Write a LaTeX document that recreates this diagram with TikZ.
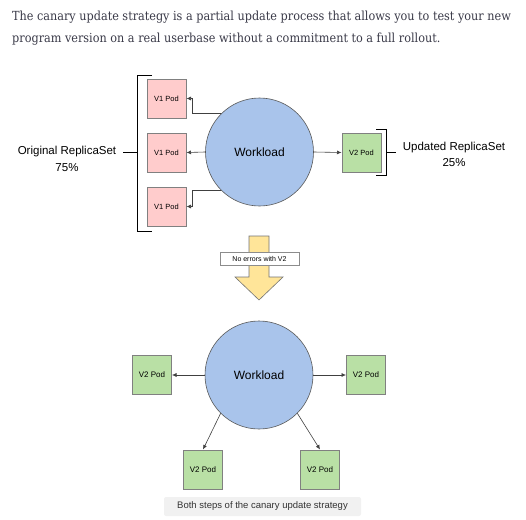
\documentclass[tikz,border=0pt]{standalone}
\usepackage{fontspec}
\setmainfont{Liberation Sans}
\newfontfamily\introfont{DejaVu Serif Condensed}
\usepackage{tikz}
\usetikzlibrary{
  positioning,
  arrows.meta
}
\definecolor{podred}{HTML}{FFCCCC}
\definecolor{podgreen}{HTML}{B9E0A5}
\definecolor{wlblue}{HTML}{A9C4EB}
\definecolor{arrowyellow}{HTML}{FFE599}
\definecolor{introgray}{HTML}{3A3A48}
\definecolor{capgray}{HTML}{F1F1F1}
\tikzset{
  pod/.style={draw=black!50, line width=1pt, minimum size=39pt, inner sep=0pt, font=\fontsize{7.5}{8}\selectfont},
  vonepod/.style={pod, fill=podred},
  vtwopod/.style={pod, fill=podgreen},
  workload/.style={circle, draw=black!65, line width=0.6pt, fill=wlblue, minimum size=108pt, inner sep=0pt, font=\fontsize{12}{14}\selectfont},
  setlabel/.style={font=\fontsize{11.5}{13}\selectfont, inner sep=0pt},
  link/.style={->, draw=black!75, line width=0.6pt}
}

\begin{document}
\begin{tikzpicture}[x=1pt,y=-1pt,>={Latex[length=4.5pt,width=4pt]}]
  \useasboundingbox (0,0) rectangle (526,519);
  % intro text
  \node[anchor=base west, inner sep=0pt, text=introgray, font=\introfont\fontsize{12.5}{21}\selectfont] (intro1) at (12,21) {The canary update strategy is a partial update process that allows you to test your new};
  \node[anchor=base west, inner sep=0pt, text=introgray, font=\introfont\fontsize{12.5}{21}\selectfont] (intro2) at (12,42) {program version on a real userbase without a commitment to a full rollout.};

  % first step
  \node[workload] (wl1) at (259.5,152) {Workload};
  \node[vonepod] (pa) at (166.5,98.5) {V1 Pod};
  \node[vonepod] (pb) at (166.5,152.5) {V1 Pod};
  \node[vonepod] (pc) at (166.5,206.5) {V1 Pod};
  \node[vtwopod] (pd) at (361.5,152.5) {V2 Pod};
  \draw[link] (wl1.135) -- ++(-28.5,0) |- (pa.east);
  \draw[link] (wl1.west) -- (pb.east);
  \draw[link] (wl1.225) -- ++(-28.5,0) |- (pc.east);
  \draw[link] (wl1.east) -- (pd.west);

  % brackets
  \draw[line width=1pt] (152,75) -- (137,75) -- (137,231) -- (152,231);
  \draw[line width=1pt] (376,129) -- (386,129) -- (386,175) -- (376,175);
  \coordinate (lbrk) at (137,152);
  \coordinate (ltick) at (123,152);
  \coordinate (rbrk) at (386,152);
  \coordinate (rtick) at (396,152);
  \node[setlabel] (orig) at (67,152) {Original ReplicaSet};
  \node[setlabel] (origpct) at (67,168) {75\%};
  \node[setlabel] (upd) at (454,148) {Updated ReplicaSet};
  \node[setlabel] (updpct) at (454,163) {25\%};
  \draw[line width=1pt] (ltick) -- (lbrk);
  \draw[line width=1pt] (rbrk) -- (rtick);

  % big arrow
  \draw[draw=black!55, line width=0.6pt, fill=arrowyellow] (249,236) -- (269,236) -- (269,277) -- (283,277) -- (259,300) -- (235,277) -- (249,277) -- cycle;
  \node[draw=black!45, fill=white, minimum width=79pt, minimum height=13pt, inner sep=0pt, font=\fontsize{7}{8}\selectfont] (cond) at (259.5,258.5) {No errors with V2};

  % second step
  \node[workload] (wl2) at (259,375) {Workload};
  \node[vtwopod, font=\fontsize{8}{9}\selectfont] (qa) at (152,375) {V2 Pod};
  \node[vtwopod, font=\fontsize{8}{9}\selectfont] (qb) at (366,375) {V2 Pod};
  \node[vtwopod, font=\fontsize{8}{9}\selectfont] (qc) at (203,469.5) {V2 Pod};
  \node[vtwopod, font=\fontsize{8}{9}\selectfont] (qd) at (320,469.5) {V2 Pod};
  \draw[link] (wl2.west) -- (qa.east);
  \draw[link] (wl2.east) -- (qb.west);
  \draw[link] (wl2.225) -- (qc.north);
  \draw[link] (wl2.-45) -- (qd.north);

  % caption
  \node[fill=capgray, rounded corners=2pt, minimum width=197pt, minimum height=19pt, inner sep=0pt, text=black!80, font=\fontsize{9.5}{11}\selectfont] (cap) at (262.5,506.5) {Both steps of the canary update strategy};
\end{tikzpicture}
\end{document}
